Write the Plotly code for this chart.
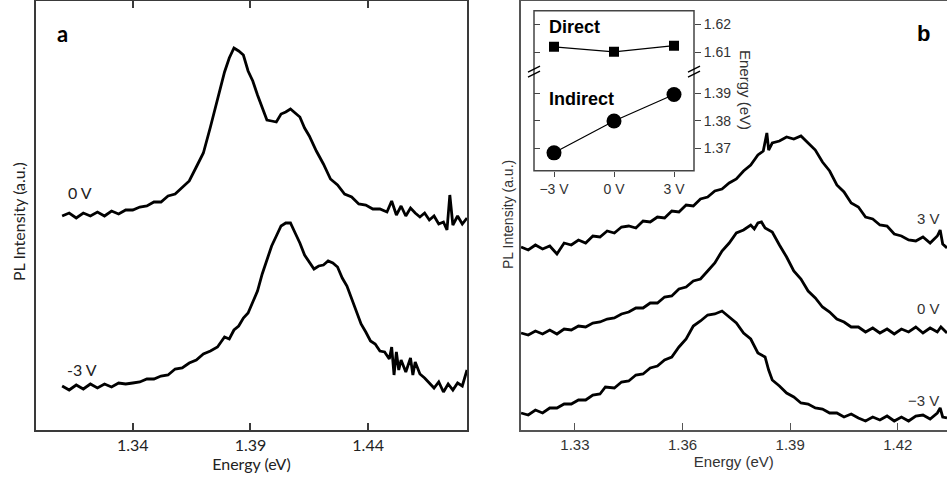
import plotly.graph_objects as go

# ---------------- Panel a data ----------------
a_E_0V = [1.310, 1.313, 1.316, 1.319, 1.322, 1.325, 1.328, 1.331, 1.334, 1.337, 1.340, 1.343, 1.346, 1.349,
          1.352, 1.355, 1.358, 1.361, 1.364, 1.367, 1.370, 1.373, 1.376, 1.379, 1.381, 1.383, 1.385, 1.387,
          1.389, 1.391, 1.393, 1.395, 1.397, 1.399, 1.401, 1.403, 1.405, 1.407, 1.409, 1.411, 1.413, 1.415,
          1.418, 1.421, 1.424, 1.427, 1.430, 1.433, 1.436, 1.439, 1.442, 1.445, 1.448, 1.450, 1.452, 1.454,
          1.456, 1.458, 1.460, 1.462, 1.464, 1.466, 1.468, 1.470, 1.472, 1.4735, 1.4747, 1.476, 1.478, 1.480, 1.482]
a_I_0V = [2.14, 2.17, 2.12, 2.17, 2.14, 2.18, 2.14, 2.19, 2.16, 2.20, 2.20, 2.23, 2.24, 2.28,
          2.28, 2.34, 2.36, 2.43, 2.49, 2.63, 2.77, 3.03, 3.31, 3.58, 3.72, 3.82, 3.79, 3.75,
          3.59, 3.49, 3.35, 3.23, 3.10, 3.09, 3.08, 3.16, 3.18, 3.21, 3.17, 3.13, 3.02, 2.94,
          2.79, 2.66, 2.51, 2.45, 2.36, 2.33, 2.26, 2.25, 2.21, 2.21, 2.18, 2.29, 2.15, 2.24,
          2.14, 2.22, 2.17, 2.13, 2.17, 2.10, 2.14, 2.06, 2.08, 2.00, 2.35, 2.05, 2.14, 2.06, 2.12]

a_E_m3V = [1.310, 1.313, 1.316, 1.319, 1.322, 1.325, 1.328, 1.331, 1.334, 1.337, 1.340, 1.343, 1.346, 1.349,
           1.352, 1.355, 1.358, 1.361, 1.364, 1.367, 1.370, 1.373, 1.376, 1.379, 1.381, 1.383, 1.385, 1.387,
           1.389, 1.391, 1.393, 1.395, 1.397, 1.399, 1.401, 1.403, 1.405, 1.407, 1.409, 1.411, 1.413, 1.415,
           1.417, 1.419, 1.421, 1.423, 1.425, 1.427, 1.429, 1.431, 1.433, 1.435, 1.437, 1.439, 1.441, 1.443,
           1.445, 1.447, 1.449, 1.450, 1.451, 1.452, 1.453, 1.454, 1.456, 1.458, 1.459, 1.460, 1.462, 1.464,
           1.466, 1.468, 1.470, 1.472, 1.474, 1.476, 1.478, 1.480, 1.482]
a_I_m3V = [0.44, 0.40, 0.45, 0.41, 0.46, 0.42, 0.46, 0.43, 0.47, 0.46, 0.47, 0.48, 0.51, 0.51,
           0.54, 0.55, 0.61, 0.62, 0.67, 0.70, 0.76, 0.79, 0.83, 0.93, 0.91, 1.00, 1.04, 1.12,
           1.17, 1.29, 1.39, 1.56, 1.69, 1.84, 1.94, 2.04, 2.07, 2.07, 1.97, 1.87, 1.75, 1.68,
           1.61, 1.64, 1.65, 1.69, 1.67, 1.63, 1.52, 1.44, 1.31, 1.20, 1.06, 0.98, 0.89, 0.86,
           0.79, 0.78, 0.71, 0.83, 0.55, 0.78, 0.60, 0.70, 0.58, 0.72, 0.55, 0.68, 0.56, 0.52,
           0.47, 0.42, 0.48, 0.38, 0.46, 0.40, 0.47, 0.44, 0.60]

a_ticks = [1.34, 1.39, 1.44]

# ---------------- Panel b data ----------------
b_E_3V = [1.3150, 1.3170, 1.3190, 1.3210, 1.3230, 1.3250, 1.3270, 1.3290, 1.3310, 1.3330, 1.3350, 1.3370,
          1.3390, 1.3410, 1.3430, 1.3450, 1.3470, 1.3490, 1.3510, 1.3530, 1.3550, 1.3570, 1.3590, 1.3610,
          1.3630, 1.3650, 1.3670, 1.3690, 1.3710, 1.3730, 1.3750, 1.3770, 1.3790, 1.3810, 1.3825, 1.3835,
          1.3840, 1.3850, 1.3870, 1.3890, 1.3910, 1.3930, 1.3950, 1.3970, 1.3990, 1.4010, 1.4030, 1.4050,
          1.4070, 1.4090, 1.4110, 1.4130, 1.4150, 1.4170, 1.4190, 1.4210, 1.4230, 1.4250, 1.4270, 1.4290,
          1.4310, 1.4318, 1.4325, 1.4337]
b_I_3V = [1.83, 1.80, 1.85, 1.81, 1.84, 1.76, 1.87, 1.85, 1.90, 1.87, 1.94, 1.93,
          1.99, 1.97, 2.03, 2.04, 2.02, 2.09, 2.08, 2.13, 2.12, 2.19, 2.18, 2.25,
          2.24, 2.31, 2.33, 2.39, 2.41, 2.47, 2.51, 2.59, 2.65, 2.75, 2.79, 2.97,
          2.80, 2.87, 2.89, 2.93, 2.91, 2.94, 2.87, 2.80, 2.68, 2.59, 2.45, 2.38,
          2.27, 2.23, 2.13, 2.11, 2.05, 2.04, 1.96, 1.94, 1.90, 1.89, 1.93, 1.87,
          1.94, 2.00, 1.86, 1.82]

b_E_0V = [1.3150, 1.3170, 1.3190, 1.3210, 1.3230, 1.3250, 1.3270, 1.3290, 1.3310, 1.3330, 1.3350, 1.3370,
          1.3390, 1.3410, 1.3430, 1.3450, 1.3470, 1.3490, 1.3510, 1.3530, 1.3550, 1.3570, 1.3590, 1.3610,
          1.3630, 1.3650, 1.3670, 1.3690, 1.3710, 1.3730, 1.3750, 1.3770, 1.3790, 1.3800, 1.3810, 1.3820,
          1.3830, 1.3850, 1.3870, 1.3890, 1.3910, 1.3930, 1.3950, 1.3970, 1.3990, 1.4010, 1.4030, 1.4050,
          1.4070, 1.4090, 1.4110, 1.4130, 1.4150, 1.4170, 1.4190, 1.4210, 1.4230, 1.4250, 1.4270, 1.4290,
          1.4310, 1.4320, 1.4337]
b_I_0V = [0.97, 0.95, 0.99, 0.96, 1.00, 0.96, 1.01, 1.00, 1.04, 1.03, 1.07, 1.08,
          1.11, 1.12, 1.16, 1.18, 1.22, 1.22, 1.27, 1.27, 1.33, 1.34, 1.41, 1.43,
          1.49, 1.51, 1.59, 1.67, 1.79, 1.87, 1.97, 2.00, 2.05, 2.01, 2.07, 2.08,
          2.02, 1.98, 1.85, 1.73, 1.59, 1.51, 1.39, 1.32, 1.23, 1.18, 1.11, 1.08,
          1.03, 1.03, 0.98, 1.02, 0.97, 1.01, 0.96, 1.01, 0.98, 1.03, 0.97, 1.02,
          0.98, 1.03, 0.97]

b_E_m3V = [1.3150, 1.3170, 1.3190, 1.3210, 1.3230, 1.3250, 1.3270, 1.3290, 1.3310, 1.3330, 1.3350, 1.3370,
           1.3385, 1.3410, 1.3430, 1.3450, 1.3470, 1.3490, 1.3510, 1.3530, 1.3550, 1.3570, 1.3590, 1.3610,
           1.3630, 1.3650, 1.3670, 1.3690, 1.3710, 1.3730, 1.3750, 1.3770, 1.3790, 1.3810, 1.3830, 1.3840,
           1.3850, 1.3870, 1.3890, 1.3910, 1.3930, 1.3950, 1.3970, 1.3990, 1.4010, 1.4030, 1.4050, 1.4070,
           1.4090, 1.4110, 1.4130, 1.4150, 1.4170, 1.4190, 1.4210, 1.4230, 1.4250, 1.4270, 1.4290, 1.4310,
           1.4318, 1.4325, 1.4337]
b_I_m3V = [0.17, 0.15, 0.20, 0.17, 0.22, 0.22, 0.26, 0.26, 0.30, 0.30, 0.35, 0.36,
           0.43, 0.42, 0.48, 0.49, 0.55, 0.56, 0.62, 0.64, 0.70, 0.73, 0.83, 0.91,
           1.04, 1.09, 1.15, 1.16, 1.19, 1.13, 1.07, 0.97, 0.91, 0.77, 0.73, 0.60,
           0.50, 0.44, 0.37, 0.33, 0.27, 0.26, 0.22, 0.21, 0.17, 0.17, 0.13, 0.16,
           0.12, 0.09, 0.13, 0.10, 0.14, 0.09, 0.13, 0.09, 0.14, 0.15, 0.11, 0.17,
           0.22, 0.13, 0.12]

b_ticks = [1.33, 1.36, 1.39, 1.42]

# ---------------- Inset data ----------------
inset_bias = [-3, 0, 3]
inset_bias_labels = ["\u22123 V", "0 V", "3 V"]
direct_E = [1.6120, 1.6102, 1.6124]
indirect_E = [1.3684, 1.3800, 1.3896]
direct_ticks = [1.61, 1.62]
indirect_ticks = [1.37, 1.38, 1.39]

W, H = 947, 478
MT, MB = 1, 48
PH = H - MT - MB  # plot-area height in px


def px(x):
    return x / W


def py(y):
    return (H - MB - y) / PH


FA = "Lato, 'Open Sans', sans-serif"
FB = "'Liberation Sans', Arial, sans-serif"

fig = go.Figure()

line_style = dict(color="black", width=2.8)
fig.add_trace(go.Scatter(x=a_E_0V, y=a_I_0V, mode="lines", line=line_style, xaxis="x", yaxis="y"))
fig.add_trace(go.Scatter(x=a_E_m3V, y=a_I_m3V, mode="lines", line=line_style, xaxis="x", yaxis="y"))
fig.add_trace(go.Scatter(x=b_E_3V, y=b_I_3V, mode="lines", line=line_style, xaxis="x2", yaxis="y2"))
fig.add_trace(go.Scatter(x=b_E_0V, y=b_I_0V, mode="lines", line=line_style, xaxis="x2", yaxis="y2"))
fig.add_trace(go.Scatter(x=b_E_m3V, y=b_I_m3V, mode="lines", line=line_style, xaxis="x2", yaxis="y2"))

# inset: connecting lines on the right-labelled axes, markers on the overlaid left-tick axes
thin = dict(color="black", width=1.2)
fig.add_trace(go.Scatter(x=inset_bias, y=direct_E, mode="lines", line=thin, xaxis="x3", yaxis="y3"))
fig.add_trace(go.Scatter(x=inset_bias, y=indirect_E, mode="lines", line=thin, xaxis="x3", yaxis="y4"))
fig.add_trace(go.Scatter(x=inset_bias, y=direct_E, mode="markers", xaxis="x3", yaxis="y5",
                         marker=dict(symbol="square", size=10, color="black")))
fig.add_trace(go.Scatter(x=inset_bias, y=indirect_E, mode="markers", xaxis="x3", yaxis="y6",
                         marker=dict(symbol="circle", size=15, color="black")))

frame_a = "#3a3a3a"
frame_b = "#555555"
tick_in = "#444444"

x_in = [px(534), px(694)]
y_up = [py(71.7), py(10.7)]
y_lo = [py(170.7), py(71.7)]
r_up = [1.6031, 1.6249]
r_lo = [1.3619, 1.3979]

fig.update_layout(
    width=W, height=H,
    margin=dict(l=0, r=0, t=MT, b=MB),
    paper_bgcolor="white", plot_bgcolor="rgba(0,0,0,0)",
    showlegend=False,
    xaxis=dict(domain=[px(36), px(467)], range=[1.2989, 1.482], anchor="y",
               tickmode="array", tickvals=a_ticks, ticktext=[f"{v:.2f}" for v in a_ticks],
               ticks="inside", ticklen=7, tickwidth=1.5, tickcolor=frame_a,
               showline=True, linecolor=frame_a, linewidth=1.8, mirror="ticks",
               showgrid=False, zeroline=False,
               tickfont=dict(family=FA, size=16, color="#222"),
               title=dict(text="Energy (eV)", font=dict(family=FA, size=16, color="#222"), standoff=0)),
    yaxis=dict(domain=[0, 1], range=[0, 4.29], anchor="x",
               showticklabels=False, ticks="", showline=True, linecolor=frame_a, linewidth=1.8,
               mirror=True, showgrid=False, zeroline=False),
    xaxis2=dict(domain=[px(520.7), 1.0], range=[1.3149, 1.4337], anchor="y2",
                tickmode="array", tickvals=b_ticks, ticktext=[f"{v:.2f}" for v in b_ticks],
                ticks="inside", ticklen=7, tickwidth=1.3, tickcolor=frame_b,
                showline=True, linecolor=frame_b, linewidth=1.6, mirror=True,
                showgrid=False, zeroline=False,
                tickfont=dict(family=FB, size=15, color="#333"),
                title=dict(text="Energy (eV)", font=dict(family=FB, size=15, color="#333"), standoff=0)),
    yaxis2=dict(domain=[0, 1], range=[0, 4.29], anchor="x2",
                showticklabels=False, ticks="", showline=True, linecolor=frame_b, linewidth=1.6,
                mirror=False, showgrid=False, zeroline=False),
    # inset
    xaxis3=dict(domain=x_in, range=[-4.0, 4.0], anchor="y4",
                tickmode="array", tickvals=inset_bias, ticktext=inset_bias_labels,
                ticks="outside", ticklen=5, tickwidth=1.2, tickcolor=tick_in,
                showline=False, showgrid=False, zeroline=False,
                tickfont=dict(family=FB, size=14, color="#333")),
    yaxis3=dict(domain=y_up, range=r_up, anchor="x3", side="right",
                tickmode="array", tickvals=direct_ticks, ticktext=[f"{v:.2f}" for v in direct_ticks],
                ticks="outside", ticklen=6, tickwidth=1.2, tickcolor=tick_in,
                showline=False, showgrid=False, zeroline=False,
                tickfont=dict(family=FB, size=14, color="#333")),
    yaxis4=dict(domain=y_lo, range=r_lo, anchor="x3", side="right",
                tickmode="array", tickvals=indirect_ticks, ticktext=[f"{v:.2f}" for v in indirect_ticks],
                ticks="outside", ticklen=6, tickwidth=1.2, tickcolor=tick_in,
                showline=False, showgrid=False, zeroline=False,
                tickfont=dict(family=FB, size=14, color="#333")),
    yaxis5=dict(overlaying="y3", range=r_up, anchor="x3", side="left",
                tickmode="array", tickvals=direct_ticks, showticklabels=False,
                ticks="inside", ticklen=6, tickwidth=1.2, tickcolor=tick_in,
                showline=False, showgrid=False, zeroline=False),
    yaxis6=dict(overlaying="y4", range=r_lo, anchor="x3", side="left",
                tickmode="array", tickvals=indirect_ticks, showticklabels=False,
                ticks="inside", ticklen=6, tickwidth=1.2, tickcolor=tick_in,
                showline=False, showgrid=False, zeroline=False),
)

shapes = [
    dict(type="rect", xref="paper", yref="paper", x0=px(534), x1=px(694), y0=py(170.7), y1=py(10.7),
         line=dict(color="#444", width=1.5), fillcolor="rgba(0,0,0,0)", layer="above"),
]
for bx in (534, 694):
    for off in (-2.5, 2.5):
        shapes.append(dict(type="line", xref="paper", yref="paper",
                           x0=px(bx - 6), y0=py(71.7 + off + 3), x1=px(bx + 6), y1=py(71.7 + off - 3),
                           line=dict(color="black", width=1.3)))
fig.update_layout(shapes=shapes)

ann = [
    dict(text="PL Intensity (a.u.)", x=px(18), y=py(222), textangle=-90,
         font=dict(family=FA, size=16, color="#222")),
    dict(text="PL Intensity (a.u.)", x=px(508), y=py(215), textangle=-90,
         font=dict(family=FB, size=14, color="#333")),
    dict(text="<b>a</b>", x=px(62), y=py(34), font=dict(family=FA, size=22, color="black")),
    dict(text="<b>b</b>", x=px(923), y=py(33), font=dict(family=FB, size=22, color="black")),
    dict(text="0 V", x=px(80), y=py(192), font=dict(family=FA, size=16, color="#222")),
    dict(text="-3 V", x=px(82), y=py(369), font=dict(family=FA, size=16, color="#222")),
    dict(text="3 V", x=px(928), y=py(218), font=dict(family=FB, size=15, color="#333")),
    dict(text="0 V", x=px(928), y=py(308), font=dict(family=FB, size=15, color="#333")),
    dict(text="\u22123 V", x=px(923), y=py(400), font=dict(family=FB, size=15, color="#333")),
    dict(text="<b>Direct</b>", x=px(547), y=py(27), xanchor="left", font=dict(family=FB, size=18, color="black")),
    dict(text="<b>Indirect</b>", x=px(547), y=py(99), xanchor="left", font=dict(family=FB, size=18, color="black")),
    dict(text="Energy (eV)", x=px(745), y=py(90), textangle=90, font=dict(family=FB, size=15, color="#333")),
]
for a in ann:
    a.setdefault("xanchor", "center")
    a.update(xref="paper", yref="paper", yanchor="middle", showarrow=False)
fig.update_layout(annotations=ann)

fig.write_html("out.html")
